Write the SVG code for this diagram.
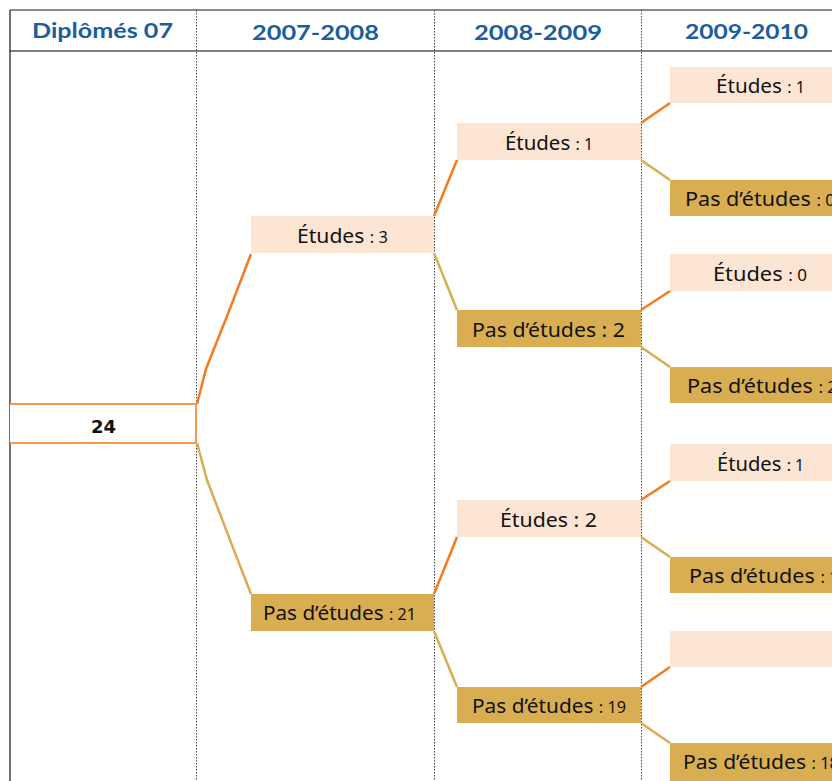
<svg xmlns="http://www.w3.org/2000/svg" width="832" height="781" viewBox="0 0 832 781">
<style>
.hdr{font-family:"Lato","Open Sans",sans-serif;font-weight:bold;font-size:20px;fill:#1A5E9E;text-anchor:middle}
.lbl{font-family:"Noto Sans","Open Sans",sans-serif;font-size:20.5px;fill:#111;text-anchor:middle}
.st{text-anchor:start}
.sm{font-size:16px}
.et{fill:#FDE5D3}
.pe{fill:#D9AE52}
.grid{stroke:#444;stroke-width:1;stroke-dasharray:1.5 1.5;fill:none}
.co{stroke:#F47B20;stroke-width:2.5;fill:none}
.ct{stroke:#D9AE52;stroke-width:2.5;fill:none}
</style>
<rect width="832" height="781" fill="#fff"/>
<g id="frame">
<line x1="10" y1="10" x2="832" y2="10" stroke="#666" stroke-width="1.5"/>
<line x1="10" y1="51" x2="832" y2="51" stroke="#555" stroke-width="1.5"/>
<line x1="10" y1="10" x2="10" y2="781" stroke="#111" stroke-width="1.2"/>
<line class="grid" x1="196.5" y1="10" x2="196.5" y2="781"/>
<line class="grid" x1="434.5" y1="10" x2="434.5" y2="781"/>
<line class="grid" x1="641.5" y1="10" x2="641.5" y2="781"/>
<text class="hdr" x="102.5" y="38" textLength="141" lengthAdjust="spacingAndGlyphs">Diplômés 07</text>
<text class="hdr" x="315.5" y="40" textLength="127" lengthAdjust="spacingAndGlyphs">2007-2008</text>
<text class="hdr" x="538" y="40" textLength="128" lengthAdjust="spacingAndGlyphs">2008-2009</text>
<text class="hdr" x="746.5" y="39" textLength="123" lengthAdjust="spacingAndGlyphs">2009-2010</text>
</g>
<g id="connectors">
<polyline class="co" points="197,404 206,369 229,311 251,254"/>
<polyline class="ct" points="197,443 207,480 230,540 251,594"/>
<line class="co" x1="434" y1="216" x2="457" y2="160"/>
<line class="ct" x1="434" y1="253" x2="457" y2="310"/>
<line class="co" x1="434" y1="594" x2="457" y2="537"/>
<line class="ct" x1="434" y1="631" x2="457" y2="687"/>
<line class="co" x1="641" y1="123" x2="670" y2="103"/>
<line class="ct" x1="641" y1="160" x2="670" y2="180"/>
<line class="co" x1="641" y1="310" x2="670" y2="291"/>
<line class="ct" x1="641" y1="347" x2="670" y2="367"/>
<line class="co" x1="641" y1="500" x2="670" y2="481"/>
<line class="ct" x1="641" y1="537" x2="670" y2="557"/>
<line class="co" x1="641" y1="687" x2="670" y2="667"/>
<line class="ct" x1="641" y1="723" x2="670" y2="743"/>
</g>
<g id="root">
<rect x="10" y="404" width="186" height="39" fill="#fff"/>
<polyline points="10,404 196,404 196,443 10,443" fill="none" stroke="#F79A4E" stroke-width="2"/>
<text x="103.5" y="433" font-family="DejaVu Sans" font-weight="bold" font-size="18" fill="#111" text-anchor="middle">24</text>
</g>
<g id="n1a"><rect class="et" x="251" y="216" width="183" height="37"/><text class="lbl" x="342.5" y="243" textLength="91" lengthAdjust="spacingAndGlyphs">Études <tspan class="sm">: 3</tspan></text></g>
<g id="n1b"><rect class="pe" x="251" y="594" width="183" height="37"/><text class="lbl" x="339.5" y="620" textLength="153" lengthAdjust="spacingAndGlyphs">Pas d’études <tspan class="sm">: 21</tspan></text></g>
<g id="n2a"><rect class="et" x="457" y="123" width="184" height="37"/><text class="lbl" x="549" y="150" textLength="88" lengthAdjust="spacingAndGlyphs">Études <tspan class="sm">: 1</tspan></text></g>
<g id="n2b"><rect class="pe" x="457" y="310" width="184" height="37"/><text class="lbl" x="548.5" y="337" textLength="153" lengthAdjust="spacingAndGlyphs">Pas d’études :  2</text></g>
<g id="n2c"><rect class="et" x="457" y="500" width="184" height="37"/><text class="lbl" x="548.5" y="527" textLength="97" lengthAdjust="spacingAndGlyphs">Études :  2</text></g>
<g id="n2d"><rect class="pe" x="457" y="687" width="184" height="36"/><text class="lbl" x="549" y="713" textLength="154" lengthAdjust="spacingAndGlyphs">Pas d’études <tspan class="sm">: 19</tspan></text></g>
<g id="n3a"><rect class="et" x="670" y="67" width="184" height="36"/><text class="lbl" x="760.5" y="93" textLength="89" lengthAdjust="spacingAndGlyphs">Études <tspan class="sm">: 1</tspan></text></g>
<g id="n3b"><rect class="pe" x="670" y="180" width="184" height="36"/><text class="lbl st" x="685" y="206" textLength="150" lengthAdjust="spacingAndGlyphs">Pas d’études <tspan class="sm">: 0</tspan></text></g>
<g id="n3c"><rect class="et" x="670" y="254" width="184" height="37"/><text class="lbl" x="760" y="281" textLength="94" lengthAdjust="spacingAndGlyphs">Études <tspan class="sm">: 0</tspan></text></g>
<g id="n3d"><rect class="pe" x="670" y="367" width="184" height="36"/><text class="lbl st" x="687" y="393" textLength="150" lengthAdjust="spacingAndGlyphs">Pas d’études <tspan class="sm">: 2</tspan></text></g>
<g id="n3e"><rect class="et" x="670" y="444" width="184" height="37"/><text class="lbl" x="760.5" y="471" textLength="87" lengthAdjust="spacingAndGlyphs">Études <tspan class="sm">: 1</tspan></text></g>
<g id="n3f"><rect class="pe" x="670" y="557" width="184" height="36"/><text class="lbl st" x="689" y="583" textLength="150" lengthAdjust="spacingAndGlyphs">Pas d’études <tspan class="sm">: 1</tspan></text></g>
<g id="n3g"><rect class="et" x="670" y="631" width="184" height="36"/></g>
<g id="n3h"><rect class="pe" x="670" y="743" width="184" height="38"/><text class="lbl st" x="683" y="769" textLength="156" lengthAdjust="spacingAndGlyphs">Pas d’études <tspan class="sm">: 18</tspan></text></g>
</svg>
